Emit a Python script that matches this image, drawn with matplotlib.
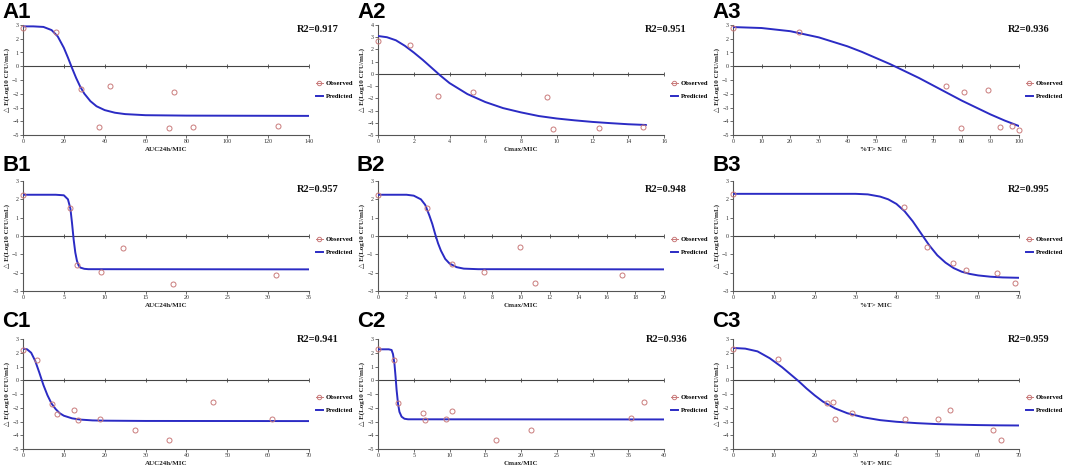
import matplotlib
matplotlib.use("Agg")
import matplotlib.pyplot as plt
from matplotlib.lines import Line2D

# ---------------- data ----------------
a1_obs_x = [0, 16.0, 28.5, 37.1, 42.4, 71.6, 73.9, 83.1, 125.0]
a1_obs_y = [2.77, 2.48, -1.68, -4.40, -1.41, -4.50, -1.87, -4.43, -4.31]
a1_pred_x = [0, 5, 10, 14, 17, 20, 22, 24, 26, 28, 30, 33, 36, 40, 45, 50, 60, 80, 140]
a1_pred_y = [2.9, 2.9, 2.86, 2.63, 2.17, 1.34, 0.63, -0.13, -0.85, -1.48, -1.99, -2.54, -2.91, -3.19, -3.38, -3.48, -3.56, -3.59, -3.61]

a2_obs_x = [0, 1.79, 3.36, 5.32, 9.48, 9.81, 12.35, 14.83]
a2_obs_y = [2.70, 2.40, -1.78, -1.48, -1.91, -4.54, -4.45, -4.32]
a2_pred_x = [0, 0.5, 1, 1.5, 2, 2.5, 3, 3.5, 4, 5, 6, 7, 8, 9, 10, 11, 12, 13, 14, 15]
a2_pred_y = [3.1, 3.0, 2.75, 2.3, 1.75, 1.15, 0.5, -0.15, -0.75, -1.65, -2.3, -2.8, -3.15, -3.45, -3.65, -3.8, -3.93, -4.03, -4.12, -4.18]

a3_obs_x = [0, 23.2, 74.4, 80.9, 89.3, 79.8, 93.2, 97.7, 100]
a3_obs_y = [2.80, 2.49, -1.43, -1.90, -1.72, -4.46, -4.44, -4.37, -4.61]
a3_pred_x = [0, 10, 20, 30, 40, 45, 50, 55, 60, 65, 70, 75, 80, 85, 90, 95, 100]
a3_pred_y = [2.85, 2.78, 2.55, 2.1, 1.45, 1.05, 0.6, 0.15, -0.35, -0.85, -1.4, -1.95, -2.5, -3.0, -3.5, -3.95, -4.35]

b1_obs_x = [0, 5.75, 6.64, 9.5, 12.2, 18.3, 31.0]
b1_obs_y = [2.24, 1.52, -1.56, -1.98, -0.63, -2.60, -2.13]
b1_pred_x = [0, 4, 5, 5.5, 5.8, 6.0, 6.2, 6.4, 6.6, 6.8, 7.0, 7.5, 8, 35]
b1_pred_y = [2.25, 2.25, 2.22, 2.0, 1.5, 0.7, -0.2, -0.9, -1.35, -1.6, -1.72, -1.79, -1.81, -1.82]

b2_obs_x = [0, 3.42, 5.19, 7.39, 9.92, 10.99, 17.05]
b2_obs_y = [2.23, 1.55, -1.53, -1.95, -0.62, -2.59, -2.12]
b2_pred_x = [0, 2, 2.5, 3, 3.3, 3.6, 3.8, 4.0, 4.2, 4.4, 4.7, 5.0, 5.5, 6, 7, 20]
b2_pred_y = [2.25, 2.25, 2.2, 2.0, 1.7, 1.1, 0.65, 0.1, -0.4, -0.8, -1.25, -1.5, -1.7, -1.78, -1.81, -1.82]

b3_obs_x = [0, 41.9, 47.6, 53.8, 57.0, 64.6, 69.0]
b3_obs_y = [2.28, 1.60, -0.58, -1.50, -1.86, -2.04, -2.55]
b3_pred_x = [0, 30, 33, 36, 38, 40, 42, 44, 46, 48, 50, 52, 54, 56, 58, 60, 63, 66, 70]
b3_pred_y = [2.3, 2.3, 2.27, 2.15, 2.0, 1.75, 1.35, 0.8, 0.15, -0.5, -1.05, -1.45, -1.75, -1.95, -2.07, -2.15, -2.22, -2.26, -2.28]

c1_obs_x = [0, 3.4, 7.0, 8.3, 12.5, 13.4, 18.9, 27.3, 35.8, 46.6, 61.0]
c1_obs_y = [2.22, 1.49, -1.71, -2.42, -2.18, -2.91, -2.81, -3.64, -4.35, -1.59, -2.79]
c1_pred_x = [0, 1, 2, 3, 4, 5, 6, 7, 8, 9, 10, 12, 14, 17, 20, 30, 70]
c1_pred_y = [2.3, 2.25, 2.0, 1.4, 0.55, -0.35, -1.1, -1.7, -2.1, -2.4, -2.58, -2.77, -2.86, -2.92, -2.94, -2.96, -2.97]

c2_obs_x = [0, 2.28, 2.74, 6.23, 6.51, 9.58, 10.28, 16.56, 21.44, 35.4, 37.26]
c2_obs_y = [2.24, 1.49, -1.66, -2.41, -2.88, -2.80, -2.20, -4.32, -3.63, -2.78, -1.61]
c2_pred_x = [0, 1.5, 1.9, 2.1, 2.3, 2.45, 2.6, 2.8, 3.0, 3.3, 3.7, 4.2, 40]
c2_pred_y = [2.25, 2.25, 2.2, 1.9, 1.2, 0.3, -0.7, -1.7, -2.3, -2.65, -2.8, -2.84, -2.85]

c3_obs_x = [0, 11.0, 23.1, 24.5, 25.0, 29.1, 42.1, 50.1, 53.1, 63.7, 65.7]
c3_obs_y = [2.28, 1.54, -1.64, -1.57, -2.79, -2.38, -2.84, -2.79, -2.16, -3.63, -4.31]
c3_pred_x = [0, 3, 6, 9, 12, 14, 16, 18, 20, 22, 25, 28, 32, 36, 40, 45, 50, 55, 60, 65, 70]
c3_pred_y = [2.35, 2.3, 2.1, 1.6, 0.95, 0.45, -0.05, -0.6, -1.1, -1.55, -2.05, -2.4, -2.7, -2.9, -3.02, -3.12, -3.19, -3.23, -3.26, -3.28, -3.29]

panel_labels = ["A1", "A2", "A3", "B1", "B2", "B3", "C1", "C2", "C3"]
r2_texts = ["R2=0.917", "R2=0.951", "R2=0.936", "R2=0.957", "R2=0.948",
            "R2=0.995", "R2=0.941", "R2=0.936", "R2=0.959"]
x_labels = ["AUC24h/MIC", "Cmax/MIC", "%T> MIC"] * 3
x_limits = [140, 16, 100, 35, 20, 70, 70, 40, 70]
x_steps = [20, 2, 10, 5, 2, 10, 10, 5, 10]
y_limits = [(-5, 3), (-5, 4), (-5, 3), (-3, 3), (-3, 3), (-3, 3), (-5, 3), (-5, 3), (-5, 3)]
y_label = "△ E(Log10 CFU/mL)"
legend_labels = ["Observed", "Predicted"]

obs_x = [a1_obs_x, a2_obs_x, a3_obs_x, b1_obs_x, b2_obs_x, b3_obs_x, c1_obs_x, c2_obs_x, c3_obs_x]
obs_y = [a1_obs_y, a2_obs_y, a3_obs_y, b1_obs_y, b2_obs_y, b3_obs_y, c1_obs_y, c2_obs_y, c3_obs_y]
pred_x = [a1_pred_x, a2_pred_x, a3_pred_x, b1_pred_x, b2_pred_x, b3_pred_x, c1_pred_x, c2_pred_x, c3_pred_x]
pred_y = [a1_pred_y, a2_pred_y, a3_pred_y, b1_pred_y, b2_pred_y, b3_pred_y, c1_pred_y, c2_pred_y, c3_pred_y]

# ---------------- style ----------------
W, H = 1065, 469
fig = plt.figure(figsize=(W / 100, H / 100), dpi=100)
serif = ["Liberation Serif", "DejaVu Serif"]
obs_color = "#c97b7b"
pred_color = "#2b2bc4"
axis_color = "#555555"

col_off = [0, 355, 710]
row_top = [25, 181, 339]
label_base = [18, 171, 327]
r2_y = [29, 189, 339]
r2_right = [339, 332, 340]
ax_h = 110
ax_left_pad = 23
ax_w = 286

for i in range(9):
    r, c = divmod(i, 3)
    left = col_off[c] + ax_left_pad
    top = row_top[r]
    ax = fig.add_axes([left / W, 1 - (top + ax_h) / H, ax_w / W, ax_h / H])
    ax.set_facecolor("none")
    xmax = x_limits[i]
    ymin, ymax = y_limits[i]
    ax.set_xlim(0, xmax)
    ax.set_ylim(ymin, ymax)
    xt = list(range(0, xmax + 1, x_steps[i]))
    ax.set_xticks(xt)
    ax.set_yticks(list(range(ymin, ymax + 1)))
    for s in ["top", "right"]:
        ax.spines[s].set_visible(False)
    for s in ["left", "bottom"]:
        ax.spines[s].set_color(axis_color)
        ax.spines[s].set_linewidth(0.8)
    ax.tick_params(axis="both", labelsize=4.3, length=2, width=0.6,
                   color=axis_color, pad=1.2, labelcolor="#333333")
    for lab in ax.get_xticklabels() + ax.get_yticklabels():
        lab.set_family(serif)
    # zero line with tick marks
    ax.axhline(0, color="#444444", lw=0.8, zorder=1)
    ax.plot(xt[1:], [0] * (len(xt) - 1), linestyle="none", marker="|",
            ms=2.5, mew=0.6, color="#444444", zorder=1)
    # predicted curve
    ax.plot(pred_x[i], pred_y[i], color=pred_color, lw=1.4, zorder=3,
            solid_capstyle="round")
    # observed points
    ax.plot(obs_x[i], obs_y[i], linestyle="none", marker="o", ms=3.6,
            mfc="none", mec=obs_color, mew=0.7, zorder=4, clip_on=False)
    ax.set_xlabel(x_labels[i], fontsize=5, fontweight="bold", family=serif,
                  labelpad=2, color="#222222")
    ax.set_ylabel(y_label, fontsize=5, fontweight="bold", family=serif,
                  labelpad=1.5, color="#222222")
    # R2 text
    fig.text((col_off[c] + r2_right[c]) / W, 1 - r2_y[r] / H, r2_texts[i],
             ha="right", va="center", fontsize=7.5, fontweight="bold",
             family=serif, color="#111111")
    # panel label
    fig.text((col_off[c] + 2) / W, 1 - label_base[r] / H, panel_labels[i],
             ha="left", va="baseline", fontsize=16, fontweight="bold",
             family=["Liberation Sans", "DejaVu Sans"], color="black")
    # legend
    handles = [
        Line2D([], [], color=obs_color, marker="o", ms=3.2, mfc="none",
               mew=0.7, lw=0.7),
        Line2D([], [], color=pred_color, lw=1.4),
    ]
    ax.legend(handles, legend_labels, loc="center left",
              bbox_to_anchor=((316 - ax_left_pad) / ax_w, 0.41), frameon=False,
              prop={"family": serif, "size": 4.8, "weight": "bold"},
              handlelength=1.0, handletextpad=0.5, labelspacing=1.1,
              borderaxespad=0, borderpad=0)

fig.savefig("out.png", dpi=100)
